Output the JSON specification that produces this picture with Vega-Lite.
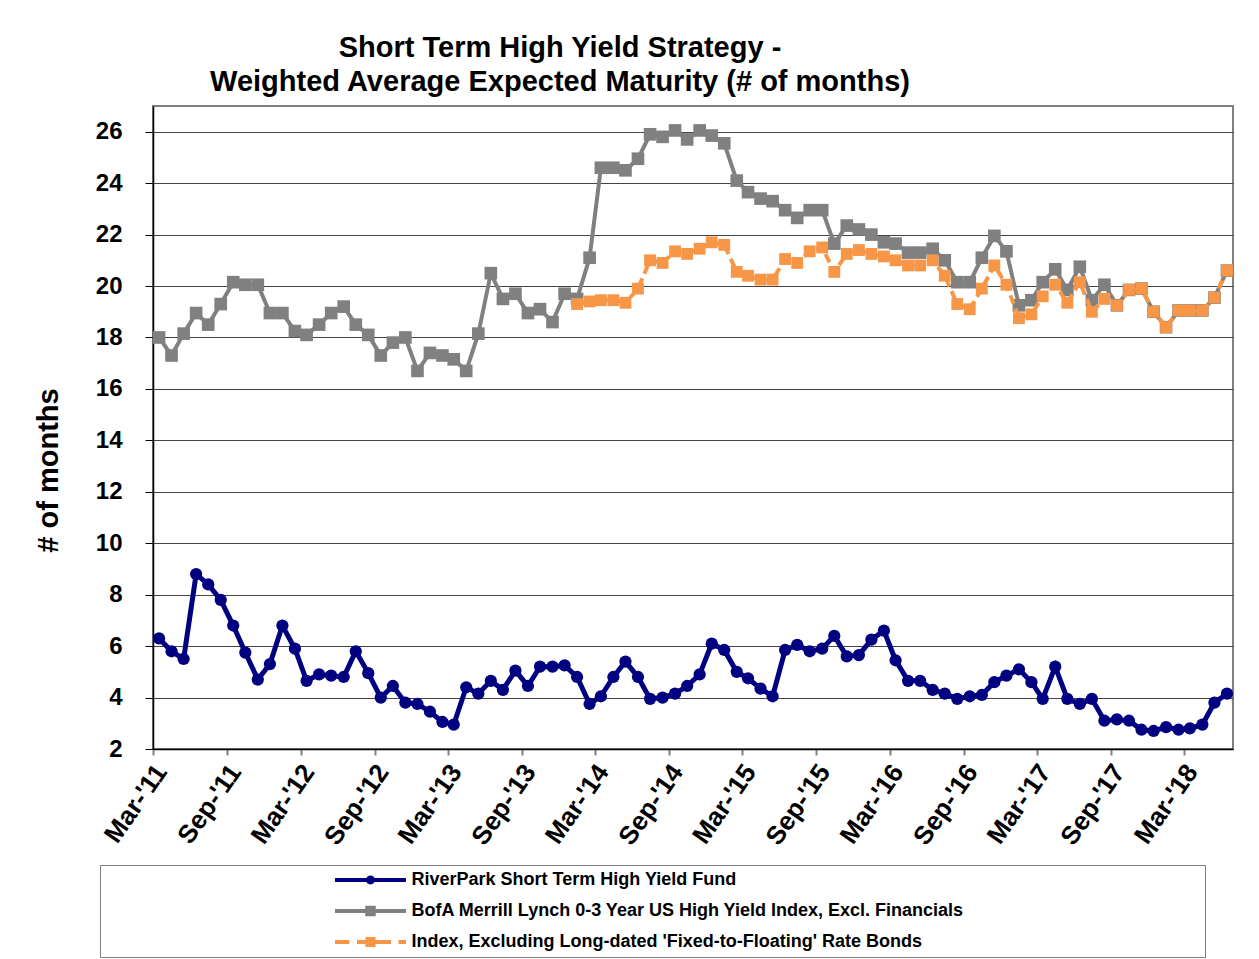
{
  "$schema": "https://vega.github.io/schema/vega-lite/v6.json",
  "width": 1080,
  "height": 643,
  "autosize": "none",
  "padding": {"left": 153, "top": 106, "right": 26, "bottom": 210},
  "background": "white",
  "config": {
    "view": {"stroke": "#808080", "strokeWidth": 2},
    "font": "Liberation Sans"
  },
  "title": {
    "text": ["Short Term High Yield Strategy -", "Weighted Average Expected Maturity (# of months)"],
    "font": "Liberation Sans",
    "fontSize": 29,
    "fontWeight": "bold",
    "color": "black",
    "lineHeight": 34,
    "anchor": "middle",
    "frame": "group",
    "dx": -133,
    "offset": 9
  },
  "data": {
    "values": [
      {"d": "2011-03-16", "f": 6.3, "g": 18.0},
      {"d": "2011-04-16", "f": 5.8, "g": 17.3},
      {"d": "2011-05-16", "f": 5.5, "g": 18.15},
      {"d": "2011-06-16", "f": 8.8, "g": 18.95},
      {"d": "2011-07-16", "f": 8.4, "g": 18.5},
      {"d": "2011-08-16", "f": 7.8, "g": 19.3},
      {"d": "2011-09-16", "f": 6.8, "g": 20.15},
      {"d": "2011-10-16", "f": 5.75, "g": 20.05},
      {"d": "2011-11-16", "f": 4.7, "g": 20.05},
      {"d": "2011-12-16", "f": 5.3, "g": 18.95},
      {"d": "2012-01-16", "f": 6.8, "g": 18.95},
      {"d": "2012-02-16", "f": 5.9, "g": 18.25},
      {"d": "2012-03-16", "f": 4.65, "g": 18.1},
      {"d": "2012-04-16", "f": 4.9, "g": 18.5},
      {"d": "2012-05-16", "f": 4.85, "g": 18.95},
      {"d": "2012-06-16", "f": 4.8, "g": 19.2},
      {"d": "2012-07-16", "f": 5.8, "g": 18.5},
      {"d": "2012-08-16", "f": 4.95, "g": 18.1},
      {"d": "2012-09-16", "f": 4.0, "g": 17.3},
      {"d": "2012-10-16", "f": 4.45, "g": 17.8},
      {"d": "2012-11-16", "f": 3.8, "g": 18.0},
      {"d": "2012-12-16", "f": 3.75, "g": 16.7},
      {"d": "2013-01-16", "f": 3.45, "g": 17.4},
      {"d": "2013-02-16", "f": 3.05, "g": 17.3},
      {"d": "2013-03-16", "f": 2.95, "g": 17.15},
      {"d": "2013-04-16", "f": 4.4, "g": 16.7},
      {"d": "2013-05-16", "f": 4.15, "g": 18.15},
      {"d": "2013-06-16", "f": 4.65, "g": 20.5},
      {"d": "2013-07-16", "f": 4.3, "g": 19.5},
      {"d": "2013-08-16", "f": 5.05, "g": 19.7},
      {"d": "2013-09-16", "f": 4.45, "g": 18.95},
      {"d": "2013-10-16", "f": 5.2, "g": 19.1},
      {"d": "2013-11-16", "f": 5.2, "g": 18.6},
      {"d": "2013-12-16", "f": 5.25, "g": 19.7},
      {"d": "2014-01-16", "f": 4.8, "g": 19.5, "o": 19.3},
      {"d": "2014-02-16", "f": 3.75, "g": 21.1, "o": 19.4},
      {"d": "2014-03-16", "f": 4.05, "g": 24.6, "o": 19.45},
      {"d": "2014-04-16", "f": 4.8, "g": 24.6, "o": 19.45},
      {"d": "2014-05-16", "f": 5.4, "g": 24.5, "o": 19.35},
      {"d": "2014-06-16", "f": 4.8, "g": 24.95, "o": 19.9},
      {"d": "2014-07-16", "f": 3.95, "g": 25.9, "o": 21.0},
      {"d": "2014-08-16", "f": 4.0, "g": 25.8, "o": 20.9},
      {"d": "2014-09-16", "f": 4.15, "g": 26.05, "o": 21.35},
      {"d": "2014-10-16", "f": 4.45, "g": 25.7, "o": 21.25},
      {"d": "2014-11-16", "f": 4.9, "g": 26.05, "o": 21.45},
      {"d": "2014-12-16", "f": 6.1, "g": 25.85, "o": 21.7},
      {"d": "2015-01-16", "f": 5.85, "g": 25.55, "o": 21.6},
      {"d": "2015-02-16", "f": 5.0, "g": 24.1, "o": 20.55},
      {"d": "2015-03-16", "f": 4.75, "g": 23.65, "o": 20.4},
      {"d": "2015-04-16", "f": 4.35, "g": 23.4, "o": 20.25},
      {"d": "2015-05-16", "f": 4.05, "g": 23.3, "o": 20.25},
      {"d": "2015-06-16", "f": 5.85, "g": 22.95, "o": 21.05},
      {"d": "2015-07-16", "f": 6.05, "g": 22.65, "o": 20.9},
      {"d": "2015-08-16", "f": 5.8, "g": 22.95, "o": 21.35},
      {"d": "2015-09-16", "f": 5.9, "g": 22.95, "o": 21.5},
      {"d": "2015-10-16", "f": 6.4, "g": 21.65, "o": 20.55},
      {"d": "2015-11-16", "f": 5.6, "g": 22.35, "o": 21.25},
      {"d": "2015-12-16", "f": 5.65, "g": 22.2, "o": 21.4},
      {"d": "2016-01-16", "f": 6.25, "g": 22.0, "o": 21.25},
      {"d": "2016-02-16", "f": 6.6, "g": 21.7, "o": 21.15},
      {"d": "2016-03-16", "f": 5.45, "g": 21.65, "o": 21.0},
      {"d": "2016-04-16", "f": 4.65, "g": 21.3, "o": 20.8},
      {"d": "2016-05-16", "f": 4.65, "g": 21.3, "o": 20.8},
      {"d": "2016-06-16", "f": 4.3, "g": 21.45, "o": 21.0},
      {"d": "2016-07-16", "f": 4.15, "g": 21.0, "o": 20.4},
      {"d": "2016-08-16", "f": 3.95, "g": 20.15, "o": 19.3},
      {"d": "2016-09-16", "f": 4.05, "g": 20.15, "o": 19.1},
      {"d": "2016-10-16", "f": 4.1, "g": 21.1, "o": 19.9},
      {"d": "2016-11-16", "f": 4.6, "g": 21.95, "o": 20.8},
      {"d": "2016-12-16", "f": 4.85, "g": 21.35, "o": 20.05},
      {"d": "2017-01-16", "f": 5.1, "g": 19.25, "o": 18.75},
      {"d": "2017-02-16", "f": 4.6, "g": 19.45, "o": 18.9},
      {"d": "2017-03-16", "f": 3.95, "g": 20.15, "o": 19.6},
      {"d": "2017-04-16", "f": 5.2, "g": 20.65, "o": 20.05},
      {"d": "2017-05-16", "f": 3.95, "g": 19.85, "o": 19.35},
      {"d": "2017-06-16", "f": 3.75, "g": 20.75, "o": 20.15},
      {"d": "2017-07-16", "f": 3.95, "g": 19.45, "o": 19.0},
      {"d": "2017-08-16", "f": 3.1, "g": 20.05, "o": 19.5},
      {"d": "2017-09-16", "f": 3.15, "g": 19.25, "o": 19.25},
      {"d": "2017-10-16", "f": 3.1, "g": 19.85, "o": 19.85},
      {"d": "2017-11-16", "f": 2.75, "g": 19.9, "o": 19.9},
      {"d": "2017-12-16", "f": 2.7, "g": 19.0, "o": 19.0},
      {"d": "2018-01-16", "f": 2.85, "g": 18.4, "o": 18.4},
      {"d": "2018-02-16", "f": 2.75, "g": 19.05, "o": 19.05},
      {"d": "2018-03-16", "f": 2.8, "g": 19.05, "o": 19.05},
      {"d": "2018-04-16", "f": 2.95, "g": 19.05, "o": 19.05},
      {"d": "2018-05-16", "f": 3.8, "g": 19.55, "o": 19.55},
      {"d": "2018-06-16", "f": 4.15, "g": 20.6, "o": 20.6}
    ]
  },
  "transform": [
    {"fold": ["f", "g", "o"], "as": ["series", "value"]},
    {"filter": "isValid(datum.value)"}
  ],
  "encoding": {
    "x": {
      "field": "d",
      "type": "temporal",
      "scale": {
        "type": "utc",
        "domain": [
          {"year": 2011, "month": 3, "date": 1, "utc": true},
          {"year": 2018, "month": 7, "date": 1, "utc": true}
        ]
      },
      "axis": {
        "values": [
          {"year": 2011, "month": 3, "date": 1, "utc": true},
          {"year": 2011, "month": 9, "date": 1, "utc": true},
          {"year": 2012, "month": 3, "date": 1, "utc": true},
          {"year": 2012, "month": 9, "date": 1, "utc": true},
          {"year": 2013, "month": 3, "date": 1, "utc": true},
          {"year": 2013, "month": 9, "date": 1, "utc": true},
          {"year": 2014, "month": 3, "date": 1, "utc": true},
          {"year": 2014, "month": 9, "date": 1, "utc": true},
          {"year": 2015, "month": 3, "date": 1, "utc": true},
          {"year": 2015, "month": 9, "date": 1, "utc": true},
          {"year": 2016, "month": 3, "date": 1, "utc": true},
          {"year": 2016, "month": 9, "date": 1, "utc": true},
          {"year": 2017, "month": 3, "date": 1, "utc": true},
          {"year": 2017, "month": 9, "date": 1, "utc": true},
          {"year": 2018, "month": 3, "date": 1, "utc": true}
        ],
        "format": "%b-'%y",
        "title": null,
        "grid": false,
        "labelAngle": -55,
        "labelAlign": "right",
        "labelBaseline": "middle",
        "labelFont": "Liberation Sans",
        "labelFontSize": 26,
        "labelFontWeight": "bold",
        "labelColor": "black",
        "labelPadding": 12,
        "labelOffset": 8,
        "labelOverlap": false,
        "labelFlush": false,
        "tickSize": 6,
        "tickColor": "#808080",
        "tickWidth": 2,
        "domainColor": "black",
        "domainWidth": 1.5
      }
    },
    "y": {
      "field": "value",
      "type": "quantitative",
      "scale": {"domain": [2, 27], "nice": false, "zero": false},
      "axis": {
        "values": [2, 4, 6, 8, 10, 12, 14, 16, 18, 20, 22, 24, 26],
        "grid": true,
        "gridColor": "#444444",
        "gridWidth": 1,
        "tickSize": 8,
        "tickColor": "black",
        "domainColor": "black",
        "domainWidth": 1.5,
        "labelFont": "Liberation Sans",
        "labelFontSize": 24,
        "labelFontWeight": "bold",
        "labelColor": "black",
        "labelPadding": 23,
        "title": "# of months",
        "titleFont": "Liberation Sans",
        "titleFontSize": 29,
        "titleFontWeight": "bold",
        "titleColor": "black",
        "titleAngle": -90,
        "titleAlign": "center",
        "titleBaseline": "middle",
        "titleX": -105,
        "titleY": 364
      }
    },
    "color": {
      "field": "series",
      "type": "nominal",
      "scale": {"domain": ["f", "g", "o"], "range": ["#000080", "#808080", "#F79646"]},
      "legend": {
        "orient": "none",
        "legendX": -53,
        "legendY": 759,
        "title": null,
        "symbolType": {"expr": "datum.value === 'f' ? 'M-4.44,-0.25H4.44V0.25H-4.44Z M0.56,0A0.56,0.56,0,1,1,-0.56,0A0.56,0.56,0,1,1,0.56,0Z M103.5,0Z' : datum.value === 'g' ? 'M-4.44,-0.25H4.44V0.25H-4.44Z M-0.66,-0.66H0.66V0.66H-0.66Z M103.5,0Z' : 'M-4.44,-0.25H-2.63V0.25H-4.44Z M-1.69,-0.25H-0.5V0.25H-1.69Z M-0.63,-0.63H0.63V0.63H-0.63Z M0.5,-0.25H2.56V0.25H0.5Z M3.5,-0.25H4.44V0.25H3.5Z M103.5,0Z'"},
        "symbolSize": 256,
        "symbolStrokeWidth": 0,
        "symbolOpacity": 1,
        "symbolFillColor": {"expr": "scale('color', datum.value)"},
        "symbolOffset": 255.5,
        "labelOffset": 32,
        "labelExpr": "datum.value === 'f' ? 'RiverPark Short Term High Yield Fund' : datum.value === 'g' ? 'BofA Merrill Lynch 0-3 Year US High Yield Index, Excl. Financials' : \"Index, Excluding Long-dated 'Fixed-to-Floating' Rate Bonds\"",
        "labelFont": "Liberation Sans",
        "labelFontSize": 18,
        "labelFontWeight": "bold",
        "labelColor": "black",
        "labelLimit": 1000,
        "rowPadding": 13,
        "padding": 6,
        "strokeColor": "#7f7f7f",
        "fillColor": "white"
      }
    }
  },
  "layer": [
    {
      "transform": [{"filter": "datum.series === 'g'"}],
      "mark": {"type": "line", "strokeWidth": 4}
    },
    {
      "transform": [{"filter": "datum.series === 'g'"}],
      "mark": {"type": "point", "shape": "square", "filled": true, "size": 160, "opacity": 1}
    },
    {
      "transform": [{"filter": "datum.series === 'o'"}],
      "mark": {"type": "line", "strokeWidth": 4, "strokeDash": [9, 5]}
    },
    {
      "transform": [{"filter": "datum.series === 'o'"}],
      "mark": {"type": "point", "shape": "square", "filled": true, "size": 140, "opacity": 1}
    },
    {
      "transform": [{"filter": "datum.series === 'f'"}],
      "mark": {"type": "line", "strokeWidth": 5}
    },
    {
      "transform": [{"filter": "datum.series === 'f'"}],
      "mark": {"type": "point", "shape": "circle", "filled": true, "size": 150, "opacity": 1}
    }
  ]
}
